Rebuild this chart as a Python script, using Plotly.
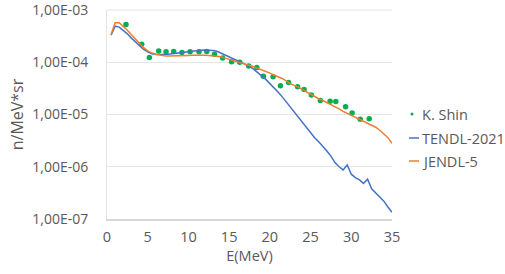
import plotly.graph_objects as go

# K. Shin experimental points
shin_e = [2.33, 4.26, 5.2, 6.35, 7.25, 8.19, 9.2, 10.2, 11.3, 12.25, 13.2, 14.2, 15.3, 16.3,
          17.4, 18.4, 19.2, 20.4, 21.3, 22.3, 23.4, 24.2, 25.1, 26.2, 27.4, 28.1, 29.3, 30.1,
          31.1, 32.2]
shin_v = [5.3e-4, 2.2e-4, 1.23e-4, 1.65e-4, 1.58e-4, 1.6e-4, 1.53e-4, 1.58e-4, 1.58e-4, 1.6e-4,
          1.42e-4, 1.2e-4, 1.02e-4, 1.0e-4, 8.5e-5, 7.9e-5, 5.4e-5, 5.3e-5, 3.55e-5, 4.1e-5,
          3.4e-5, 3.0e-5, 2.36e-5, 1.86e-5, 1.8e-5, 1.78e-5, 1.41e-5, 1.07e-5, 8.1e-6, 8.3e-6]

# Energy grid for evaluated libraries (MeV)
lib_e = [0.5 * i for i in range(1, 71)]

tendl_v = [3.3e-4, 4.9e-4, 4.7e-4, 4.1e-4, 3.5e-4, 2.9e-4, 2.45e-4, 2.05e-4, 1.77e-4, 1.58e-4,
           1.46e-4, 1.41e-4, 1.40e-4, 1.40e-4, 1.42e-4, 1.45e-4, 1.49e-4, 1.53e-4, 1.57e-4, 1.61e-4,
           1.65e-4, 1.68e-4, 1.70e-4, 1.71e-4, 1.71e-4, 1.68e-4, 1.62e-4, 1.50e-4, 1.38e-4, 1.27e-4,
           1.17e-4, 1.08e-4, 9.9e-5, 9.1e-5, 8.4e-5, 7.4e-5, 6.4e-5, 5.6e-5, 4.7e-5, 3.9e-5,
           3.3e-5, 2.7e-5, 2.2e-5, 1.75e-5, 1.4e-5, 1.15e-5, 8.8e-6, 7.0e-6, 5.6e-6, 4.5e-6,
           3.6e-6, 3.0e-6, 2.5e-6, 2.0e-6, 1.6e-6, 1.2e-6, 1.0e-6, 8.7e-7, 1.08e-6, 7.2e-7,
           6.2e-7, 5.6e-7, 4.8e-7, 5.8e-7, 3.8e-7, 3.2e-7, 2.7e-7, 2.2e-7, 1.7e-7, 1.35e-7]

jendl_v = [3.4e-4, 5.7e-4, 5.7e-4, 4.9e-4, 4.1e-4, 3.35e-4, 2.75e-4, 2.25e-4, 1.9e-4, 1.65e-4,
           1.5e-4, 1.42e-4, 1.36e-4, 1.33e-4, 1.31e-4, 1.31e-4, 1.32e-4, 1.33e-4, 1.34e-4, 1.35e-4,
           1.36e-4, 1.37e-4, 1.37e-4, 1.36e-4, 1.34e-4, 1.32e-4, 1.30e-4, 1.27e-4, 1.2e-4, 1.14e-4,
           1.09e-4, 1.05e-4, 9.9e-5, 9.3e-5, 8.7e-5, 8.2e-5, 7.7e-5, 7.2e-5, 6.7e-5, 6.2e-5,
           5.7e-5, 5.3e-5, 4.9e-5, 4.4e-5, 3.9e-5, 3.6e-5, 3.35e-5, 3.0e-5, 2.7e-5, 2.45e-5,
           2.2e-5, 2.0e-5, 1.85e-5, 1.7e-5, 1.55e-5, 1.4e-5, 1.28e-5, 1.15e-5, 1.05e-5, 9.8e-6,
           9.0e-6, 8.2e-6, 7.4e-6, 6.8e-6, 6.3e-6, 5.7e-6, 5.0e-6, 4.3e-6, 3.6e-6, 2.8e-6]

y_tickvals = [1e-7, 1e-6, 1e-5, 1e-4, 1e-3]
y_ticktext = ["1,00E-07", "1,00E-06", "1,00E-05", "1,00E-04", "1,00E-03"]
x_tickvals = [0, 5, 10, 15, 20, 25, 30, 35]

series_names = ["K. Shin", "TENDL-2021", "JENDL-5"]
series_colors = ["#00B050", "#4472C4", "#ED7D31"]

FONT = "Open Sans"
GREY = "#595959"
FS = 14
GRID = "#E6E6E6"

# Compact Excel-style legend (paper coordinates)
W, H, L, R, T, B = 505, 274, 107, 113, 10, 55
PW, PH = W - L - R, H - T - B
def px_x(p):
    return (p - L) / PW
def px_y(p):
    return (H - B - p) / PH

fig = go.Figure()
fig.add_trace(go.Scatter(x=shin_e, y=shin_v, mode="markers", name=series_names[0],
                         marker=dict(color=series_colors[0], size=5.5)))
fig.add_trace(go.Scatter(x=lib_e, y=tendl_v, mode="lines", name=series_names[1],
                         line=dict(color=series_colors[1], width=1.5)))
fig.add_trace(go.Scatter(x=lib_e, y=jendl_v, mode="lines", name=series_names[2],
                         line=dict(color=series_colors[2], width=1.5)))

# top gridline at the upper range edge (plotly omits it)
fig.add_shape(type="line", xref="paper", yref="paper", x0=0, x1=1, y0=1, y1=1,
              layer="below", line=dict(color=GRID, width=1))

legend_rows = [114, 138, 161]
for i, (name, col) in enumerate(zip(series_names, series_colors)):
    yy = px_y(legend_rows[i])
    fig.add_annotation(x=px_x(420), y=yy, xref="paper", yref="paper", text=name,
                       showarrow=False, xanchor="left", yanchor="middle",
                       font=dict(family=FONT, size=14.5, color=GREY))
    if i == 0:
        fig.add_shape(type="circle", xref="paper", yref="paper",
                      x0=px_x(410.5), x1=px_x(413.5), y0=yy - 1.5 / PH, y1=yy + 1.5 / PH,
                      fillcolor=col, line=dict(color=col, width=0))
    else:
        fig.add_shape(type="line", xref="paper", yref="paper",
                      x0=px_x(409), x1=px_x(419), y0=yy, y1=yy,
                      line=dict(color=col, width=1.5))

fig.update_layout(
    width=W, height=H,
    margin=dict(l=L, r=R, t=T, b=B),
    paper_bgcolor="white", plot_bgcolor="white",
    font=dict(family=FONT, size=FS, color=GREY),
    showlegend=False,
)
fig.update_xaxes(range=[0, 35], tickvals=x_tickvals, showgrid=False,
                 showline=True, linecolor="#D9D9D9", linewidth=1.5,
                 ticks="", zeroline=False, automargin=False, ticklabelstandoff=4,
                 title=dict(text="E(MeV)", font=dict(family=FONT, size=14.5, color=GREY), standoff=2),
                 tickfont=dict(family=FONT, size=14.5, color=GREY))
fig.update_yaxes(type="log", range=[-7, -3], tickvals=y_tickvals, ticktext=y_ticktext,
                 showgrid=True, gridcolor=GRID, gridwidth=1,
                 showline=True, linecolor=GRID, linewidth=1,
                 ticks="", zeroline=False, automargin=False, ticklabelstandoff=15,
                 ticklabeloverflow="allow",
                 title=dict(text="n/MeV*sr", font=dict(family=FONT, size=16, color=GREY), standoff=4),
                 tickfont=dict(family=FONT, size=FS, color=GREY))

fig.write_html("out.html", config={"displayModeBar": False},
               post_script="document.body.style.margin='0';")
